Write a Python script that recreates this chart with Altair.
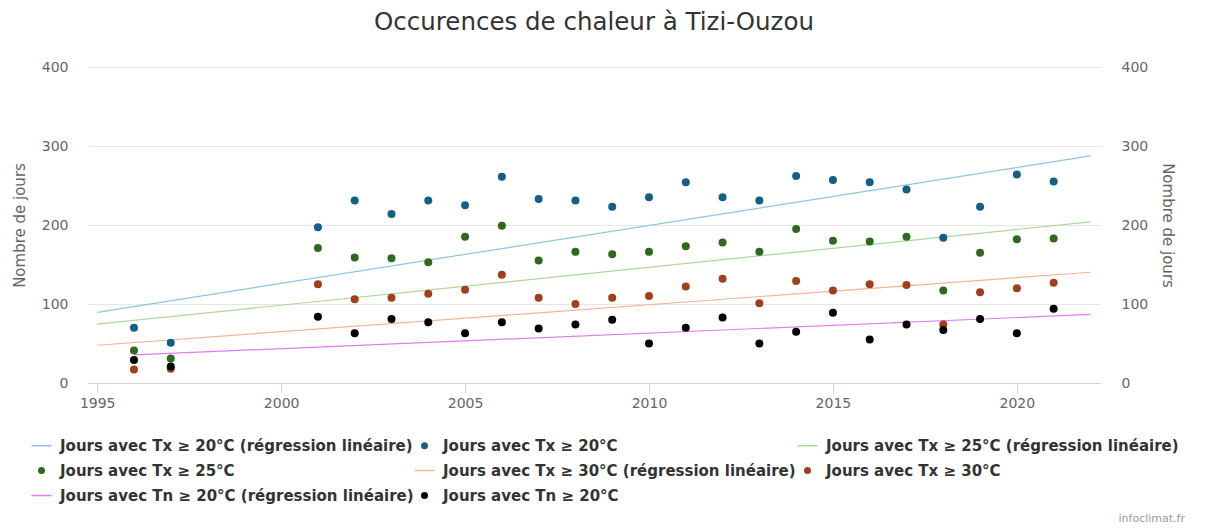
import altair as alt
import pandas as pd

# ---- data ----
years = [1996, 1997, 2001, 2002, 2003, 2004, 2005, 2006, 2007, 2008, 2009, 2010,
         2011, 2012, 2013, 2014, 2015, 2016, 2017, 2018, 2019, 2020, 2021]
tx20 = [70, 51, 197, 231, 214, 231, 225, 261, 233, 231, 223, 235,
        254, 235, 231, 262, 257, 254, 245, 184, 223, 264, 255]
tx25 = [41, 31, 171, 159, 158, 153, 185, 199, 155, 166, 163, 166,
        173, 178, 166, 195, 180, 179, 185, 117, 165, 182, 183]
tx30 = [17, 18, 125, 106, 108, 113, 118, 137, 108, 100, 108, 110,
        122, 132, 101, 129, 117, 125, 124, 74, 115, 120, 127]
tn20 = [29, 21, 84, 63, 81, 77, 63, 77, 69, 74, 80, 50,
        70, 83, 50, 65, 89, 55, 74, 67, 81, 63, 94]

# regression lines (start / end)
reg20_x = [1995, 2022]
reg20_y = [89.5, 287.5]
reg25_x = [1995, 2022]
reg25_y = [74.5, 204.0]
reg30_x = [1995, 2022]
reg30_y = [47.8, 140.2]
regtn_x = [1996, 2022]
regtn_y = [35.6, 86.8]

names = [
    "Jours avec Tx ≥ 20°C (régression linéaire)",
    "Jours avec Tx ≥ 20°C",
    "Jours avec Tx ≥ 25°C (régression linéaire)",
    "Jours avec Tx ≥ 25°C",
    "Jours avec Tx ≥ 30°C (régression linéaire)",
    "Jours avec Tx ≥ 30°C",
    "Jours avec Tn ≥ 20°C (régression linéaire)",
    "Jours avec Tn ≥ 20°C",
]
# line colours (regression series) and dot colours (observed series)
line_colors = ["#8cc6e2", "transparent", "#acd99c", "transparent",
               "#f3b49a", "transparent", "#e27cef", "transparent"]
dot_colors = ["transparent", "#145f85", "transparent", "#2d6a1e",
              "transparent", "#a23e1c", "transparent", "#000000"]

LINE_SHAPE = "M-2.86,0L2.86,0"
shapes = [LINE_SHAPE, "circle", LINE_SHAPE, "circle",
          LINE_SHAPE, "circle", LINE_SHAPE, "circle"]

x_ticks = [1995, 2000, 2005, 2010, 2015, 2020]
y_ticks = [0, 100, 200, 300, 400]

# ---- tables ----
pts = pd.concat([
    pd.DataFrame({"annee": years, "jours": tx20, "serie": names[1]}),
    pd.DataFrame({"annee": years, "jours": tx25, "serie": names[3]}),
    pd.DataFrame({"annee": years, "jours": tx30, "serie": names[5]}),
    pd.DataFrame({"annee": years, "jours": tn20, "serie": names[7]}),
], ignore_index=True)

regs = pd.concat([
    pd.DataFrame({"annee": reg20_x, "jours": reg20_y, "serie": names[0]}),
    pd.DataFrame({"annee": reg25_x, "jours": reg25_y, "serie": names[2]}),
    pd.DataFrame({"annee": reg30_x, "jours": reg30_y, "serie": names[4]}),
    pd.DataFrame({"annee": regtn_x, "jours": regtn_y, "serie": names[6]}),
], ignore_index=True)

FONT = "DejaVu Sans"

xscale = alt.Scale(domain=[1994.75, 2022.26], nice=False, zero=False)
yscale = alt.Scale(domain=[0, 400], nice=False)
stroke_scale = alt.Scale(domain=names, range=line_colors)
fill_scale = alt.Scale(domain=names, range=dot_colors)
shape_scale = alt.Scale(domain=names, range=shapes)

xaxis = alt.Axis(values=x_ticks, format="d", title=None, grid=False,
                 domainColor="#ccd6eb", tickColor="#ccd6eb", tickSize=10,
                 labelColor="#666666", labelFont=FONT, labelFontSize=14,
                 labelPadding=3, labelFlush=False)

yaxis_left = alt.Axis(values=y_ticks, title="Nombre de jours", domain=False, ticks=False,
                      grid=True, gridColor="#e6e6e6", labelColor="#666666",
                      labelFont=FONT, labelFontSize=14, labelPadding=20,
                      titleFont=FONT, titleFontSize=15, titleFontWeight="normal",
                      titleColor="#666666", titlePadding=14)

yaxis_right = alt.Axis(values=y_ticks, title="Nombre de jours", orient="right",
                       domain=False, ticks=False, grid=False, labelColor="#666666",
                       labelFont=FONT, labelFontSize=14, labelPadding=21,
                       labelAlign="left",
                       titleFont=FONT, titleFontSize=15, titleFontWeight="normal",
                       titleColor="#666666", titlePadding=12)

legend = alt.Legend(title=None, orient="none", legendX=-57, legendY=371,
                    direction="horizontal", columns=3, gridAlign="all",
                    columnPadding=-13, rowPadding=9,
                    labelFont=FONT, labelFontSize=15, labelFontWeight="bold",
                    labelColor="#333333", labelLimit=600,
                    symbolSize=49, symbolOffset=3, labelOffset=11,
                    symbolStrokeWidth=1.5)

lines = alt.Chart(regs).mark_line(strokeWidth=1.2).encode(
    x=alt.X("annee:Q", scale=xscale, axis=xaxis),
    y=alt.Y("jours:Q", scale=yscale, axis=yaxis_left),
    stroke=alt.Stroke("serie:N", scale=stroke_scale, legend=legend),
    detail="serie:N",
)

points = alt.Chart(pts).mark_point(filled=True, size=64, opacity=1).encode(
    x=alt.X("annee:Q", scale=xscale, axis=xaxis),
    y=alt.Y("jours:Q", scale=yscale, axis=yaxis_right),
    color=alt.Color("serie:N", scale=fill_scale, legend=legend),
    shape=alt.Shape("serie:N", scale=shape_scale, legend=legend),
)

credit = alt.Chart(pd.DataFrame({"t": ["infoclimat.fr"]})).mark_text(
    align="right", baseline="middle", font=FONT, fontSize=11, color="#999999"
).encode(text="t:N", x=alt.value(1097), y=alt.value(452))

chart = alt.layer(lines, points, credit).resolve_scale(y="independent").properties(
    width=1012,
    height=316,
    autosize=alt.AutoSizeParams(type="none"),
    padding={"left": 80, "top": 59, "right": 96, "bottom": 141},
    title=alt.TitleParams("Occurences de chaleur à Tizi-Ouzou", font=FONT, fontSize=24.5,
                          fontWeight="normal", color="#333333", anchor="middle",
                          frame="group", offset=25),
).configure_view(stroke=None)

chart.save("out.html", embed_options={"renderer": "svg", "actions": False})
